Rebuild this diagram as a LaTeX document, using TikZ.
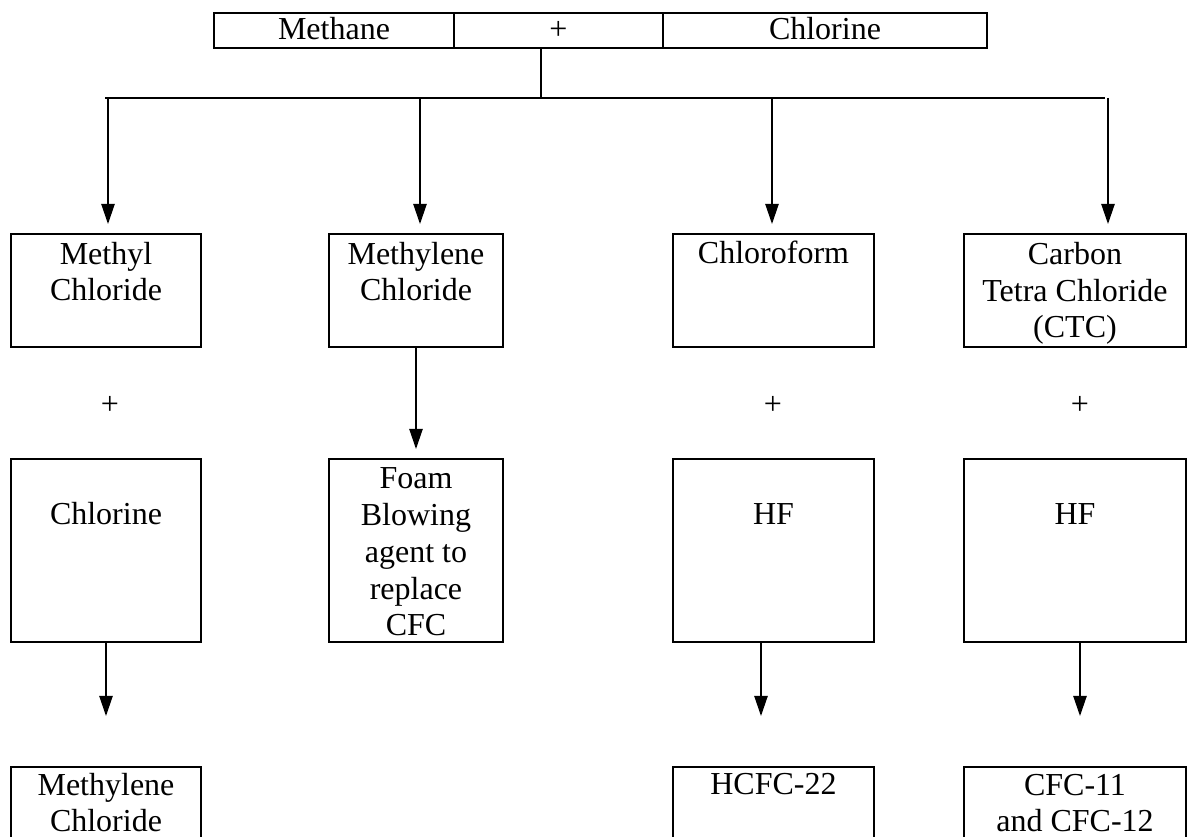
\documentclass[tikz,border=0pt]{standalone}
\usepackage{fontspec}
\setmainfont{Liberation Serif}
\usetikzlibrary{arrows.meta,positioning}

\newcommand{\pxu}{0.375pt}
\tikzset{
  box/.style={draw, line width=0.75pt, inner sep=0pt},
  cell/.style={draw, line width=0.5pt, inner sep=0pt, minimum height=35*\pxu,
    font=\fontsize{12}{13.8}\selectfont, text height=9.5pt, text depth=2.4pt},
  lbl/.style={align=center, inner sep=0pt, anchor=base, font=\fontsize{12}{13.8}\selectfont},
  arr/.style={line width=0.5pt, -{Triangle[length=7.5pt,width=5pt]}},
  ln/.style={line width=0.5pt},
}

\begin{document}
\begin{tikzpicture}[x=\pxu,y=-\pxu]
    \useasboundingbox (0,0) rectangle (1188,837);
    \clip (0,0) rectangle (1188,837);
    % Top row: reactants
    \node[cell, minimum width=240*\pxu] (mth) at (334,30.5) {Methane};
    \node[cell, minimum width=209*\pxu] (pls) at (558.5,30.5) {+};
    \node[cell, minimum width=324*\pxu] (chl) at (825,30.5) {Chlorine};
    % Bus line
    \coordinate (busl) at (105,98);
    \coordinate (busr) at (1105,98);
    \coordinate (jn) at (541,98);
    \draw[ln] (pls.south -| jn) -- (jn);
    \draw[ln] (busl) -- (busr);
    % First row of products (label base = last line)
    \node[box, minimum width=190*\pxu, minimum height=113*\pxu] (mcl) at (106,290.5) {};
    \node[box, minimum width=174*\pxu, minimum height=113*\pxu] (mdc) at (416,290.5) {};
    \node[box, minimum width=201*\pxu, minimum height=113*\pxu] (chf) at (773.5,290.5) {};
    \node[box, minimum width=222*\pxu, minimum height=113*\pxu] (ctc) at (1075,290.5) {};
    \node[lbl] (t-mcl) at (106,301) {Methyl\\Chloride};
    \node[lbl] (t-mdc) at (416,301) {Methylene\\Chloride};
    \node[lbl] (t-chf) at (773.5,264) {Chloroform};
    \node[lbl] (t-ctc) at (1075,338) {Carbon\\Tetra Chloride\\(CTC)};
    \foreach \x/\b in {108/mcl,420/mdc,772/chf,1108/ctc} {
      \draw[arr, shorten >=3.375pt] (busl -| \x,0) -- (\b.north -| \x,0);
    }
    % Plus signs
    \node[lbl, anchor=center] (p1) at (110,405) {+};
    \node[lbl, anchor=center] (p3) at (773,405) {+};
    \node[lbl, anchor=center] (p4) at (1080,405) {+};
    % Second row
    \node[box, minimum width=190*\pxu, minimum height=183*\pxu] (cl2) at (106,550.5) {};
    \node[box, minimum width=174*\pxu, minimum height=183*\pxu] (foam) at (416,550.5) {};
    \node[box, minimum width=201*\pxu, minimum height=183*\pxu] (hf1) at (773.5,550.5) {};
    \node[box, minimum width=222*\pxu, minimum height=183*\pxu] (hf2) at (1075,550.5) {};
    \node[lbl] (t-cl2) at (106,525) {Chlorine};
    \node[lbl] (t-foam) at (416,636) {Foam\\Blowing\\agent to\\replace\\CFC};
    \node[lbl] (t-hf1) at (773.5,525) {HF};
    \node[lbl] (t-hf2) at (1075,525) {HF};
    \draw[arr, shorten >=3.375pt] (mdc) -- (foam);
    % Third row (cut off at the bottom)
    \node[box, minimum width=190*\pxu, minimum height=113*\pxu] (mdc2) at (106,823.5) {};
    \node[box, minimum width=201*\pxu, minimum height=113*\pxu] (hcfc) at (773.5,823.5) {};
    \node[box, minimum width=222*\pxu, minimum height=113*\pxu] (cfc) at (1075,823.5) {};
    \node[lbl] (t-mdc2) at (106,832) {Methylene\\Chloride};
    \node[lbl] (t-hcfc) at (773.5,795) {HCFC-22};
    \node[lbl] (t-cfc) at (1075,832) {CFC-11\\and CFC-12};
    \draw[arr, shorten >=18.75pt] (cl2) -- (mdc2);
    \draw[arr, shorten >=18.75pt] (hf1.south -| 761,0) -- (hcfc.north -| 761,0);
    \draw[arr, shorten >=18.75pt] (hf2.south -| 1080,0) -- (cfc.north -| 1080,0);
  \end{tikzpicture}
\end{document}
